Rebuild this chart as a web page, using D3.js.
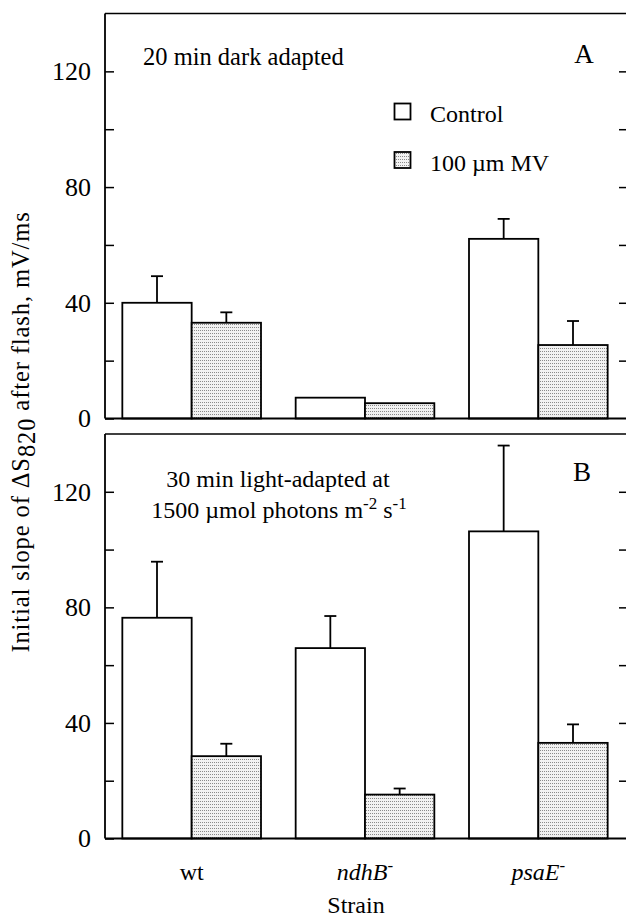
<!DOCTYPE html>
<html>
<head>
<meta charset="utf-8">
<script src="https://cdn.jsdelivr.net/npm/d3@7"></script>
<style>
  body { margin: 0; background: #fff; }
  svg text { font-family: "Liberation Serif", "Times New Roman", serif; fill: #000; }
</style>
</head>
<body>
<div id="chart"></div>
<script>
// strains on the x axis, two treatments per strain
var strains = ["wt", "ndhB", "psaE"];
var series = ["Control", "100 µm MV"];

// panel A: 20 min dark adapted (value, top of error bar)
var darkControl = [40.0, 7.2, 62.1];
var darkControlErr = [49.2, 7.2, 69.0];
var darkMV = [33.1, 5.3, 25.4];
var darkMVErr = [36.7, 5.3, 33.7];

// panel B: 30 min light adapted
var lightControl = [76.4, 65.9, 106.3];
var lightControlErr = [95.8, 77.0, 136.0];
var lightMV = [28.5, 15.2, 33.1];
var lightMVErr = [32.8, 17.3, 39.5];

var majorTicks = [0, 40, 80, 120];
var allTicks = [0, 20, 40, 60, 80, 100, 120];

function start(){
    var width = 626, height = 918;
    var left = 105, right = 627;

    var svg = d3.select("#chart").append("svg")
        .attr("width", width)
        .attr("height", height);

    // hatched fill for the methyl viologen bars
    var defs = svg.append("defs");
    var pat = defs.append("pattern")
        .attr("id", "mvfill")
        .attr("patternUnits", "userSpaceOnUse")
        .attr("width", 2).attr("height", 3);
    pat.append("rect").attr("width", 2).attr("height", 3).attr("fill", "#f2f2f2");
    pat.append("rect").attr("width", 1).attr("height", 1).attr("fill", "#8a8a8a");

    var x0 = d3.scaleBand().domain(strains).range([left, right - 2]).paddingInner(0).paddingOuter(0);
    var x1 = d3.scaleBand().domain(series).range([0, x0.bandwidth()]).paddingInner(0).paddingOuter(0.25);

    var yA = d3.scaleLinear().domain([0, 140]).range([418.5, 13.5]);
    var yB = d3.scaleLinear().domain([0, 140]).range([838.5, 434]);

    drawPanel(svg, x0, x1, yA, darkControl, darkControlErr, darkMV, darkMVErr, left, right);
    drawPanel(svg, x0, x1, yB, lightControl, lightControlErr, lightMV, lightMVErr, left, right);

    // panel annotations
    svg.append("text").attr("x", 143).attr("y", 65).style("font-size", "24.5px")
        .text("20 min dark adapted");
    svg.append("text").attr("x", 584).attr("y", 63).attr("text-anchor", "middle")
        .style("font-size", "27px").text("A");
    svg.append("text").attr("x", 582).attr("y", 481).attr("text-anchor", "middle")
        .style("font-size", "27px").text("B");

    // legend
    var legend = svg.append("g");
    series.forEach(function(s, i){
        legend.append("rect")
            .attr("x", 394.5).attr("y", 103.5 + i * 48.5)
            .attr("width", 16).attr("height", 16)
            .attr("fill", i == 0 ? "#fff" : "url(#mvfill)")
            .attr("stroke", "#000").attr("stroke-width", 1.8);
        legend.append("text")
            .attr("x", 430).attr("y", 122 + i * 48.5)
            .style("font-size", "24px")
            .text(s);
    });

    var note = svg.append("g").style("font-size", "24px");
    note.append("text").attr("x", 278).attr("y", 487).attr("text-anchor", "middle")
        .text("30 min light-adapted at");
    var l2 = note.append("text").attr("x", 279).attr("y", 518).attr("text-anchor", "middle");
    l2.append("tspan").text("1500 µmol photons m");
    l2.append("tspan").attr("dy", -9).style("font-size", "17px").text("-2");
    l2.append("tspan").attr("dy", 9).text(" s");
    l2.append("tspan").attr("dy", -9).style("font-size", "17px").text("-1");

    // strain labels
    strains.forEach(function(s, i){
        var t = svg.append("text")
            .attr("x", x0(s) + x0.bandwidth() / 2)
            .attr("y", 880)
            .attr("text-anchor", "middle")
            .style("font-size", "24px");
        if (i == 0){
            t.text(s);
        } else {
            t.append("tspan").style("font-style", "italic").text(s);
            t.append("tspan").attr("dy", -9).style("font-size", "17px").text("-");
        }
    });
    svg.append("text").attr("x", 356).attr("y", 913).attr("text-anchor", "middle")
        .style("font-size", "24px").text("Strain");

    // y label
    var yl = svg.append("text")
        .attr("transform", "translate(29,432) rotate(-90)")
        .attr("text-anchor", "middle")
        .style("font-size", "24.5px")
        .style("letter-spacing", "0.9px");
    yl.append("tspan").text("Initial slope of ΔS");
    yl.append("tspan").attr("dy", 6).text("820");
    yl.append("tspan").attr("dy", -6).text(" after flash, mV/ms");
}

function drawPanel(svg, x0, x1, y, ctrl, ctrlErr, mv, mvErr, left, right){
    var g = svg.append("g");

    var rows = [];
    strains.forEach(function(s, i){
        rows.push({strain: s, series: series[0], v: ctrl[i], e: ctrlErr[i]});
        rows.push({strain: s, series: series[1], v: mv[i], e: mvErr[i]});
    });

    // error bars (upper only)
    var err = g.selectAll(".err").data(rows.filter(function(d){ return d.e > d.v; }))
        .enter().append("g").attr("class", "err");
    err.append("line")
        .attr("x1", function(d){ return x0(d.strain) + x1(d.series) + x1.bandwidth() / 2; })
        .attr("x2", function(d){ return x0(d.strain) + x1(d.series) + x1.bandwidth() / 2; })
        .attr("y1", function(d){ return y(d.v); })
        .attr("y2", function(d){ return y(d.e); })
        .attr("stroke", "#000").attr("stroke-width", 1.8);
    err.append("line")
        .attr("x1", function(d){ return x0(d.strain) + x1(d.series) + x1.bandwidth() / 2 - 6; })
        .attr("x2", function(d){ return x0(d.strain) + x1(d.series) + x1.bandwidth() / 2 + 6; })
        .attr("y1", function(d){ return y(d.e); })
        .attr("y2", function(d){ return y(d.e); })
        .attr("stroke", "#000").attr("stroke-width", 1.8);

    g.selectAll(".bar").data(rows).enter().append("rect")
        .attr("class", "bar")
        .attr("x", function(d){ return x0(d.strain) + x1(d.series); })
        .attr("y", function(d){ return y(d.v); })
        .attr("width", x1.bandwidth())
        .attr("height", function(d){ return y(0) - y(d.v); })
        .attr("fill", function(d){ return d.series == series[0] ? "#fff" : "url(#mvfill)"; })
        .attr("stroke", "#000").attr("stroke-width", 1.8);

    // left axis, ticks pointing inward
    var axL = g.append("g").attr("transform", "translate(" + left + ",0)")
        .call(d3.axisLeft(y).tickValues(allTicks).tickSizeInner(-9).tickSizeOuter(0).tickPadding(14)
            .tickFormat(function(d){ return majorTicks.indexOf(d) >= 0 ? d : ""; }));
    axL.attr("font-size", 26).attr("font-family", null);
    axL.select(".domain").remove();
    axL.selectAll("line").attr("stroke-width", 1.5);
    axL.selectAll("text").style("font-size", "26px");

    var axR = g.append("g").attr("transform", "translate(" + right + ",0)")
        .call(d3.axisRight(y).tickValues(allTicks.slice(1)).tickSizeInner(-8).tickSizeOuter(0).tickFormat(""));
    axR.select(".domain").remove();
    axR.selectAll("line").attr("stroke-width", 1.5);

    // frame
    var r = y.range();
    g.append("line").attr("x1", left).attr("x2", right).attr("y1", r[1]).attr("y2", r[1])
        .attr("stroke", "#000").attr("stroke-width", 1.5);
    g.append("line").attr("x1", left).attr("x2", right).attr("y1", r[0]).attr("y2", r[0])
        .attr("stroke", "#000").attr("stroke-width", 2);
    g.append("line").attr("x1", left).attr("x2", left).attr("y1", r[1]).attr("y2", r[0])
        .attr("stroke", "#000").attr("stroke-width", 1.8);
    g.append("line").attr("x1", right).attr("x2", right).attr("y1", r[1]).attr("y2", r[0])
        .attr("stroke", "#000").attr("stroke-width", 1.8);
}

start()
</script>
</body>
</html>
